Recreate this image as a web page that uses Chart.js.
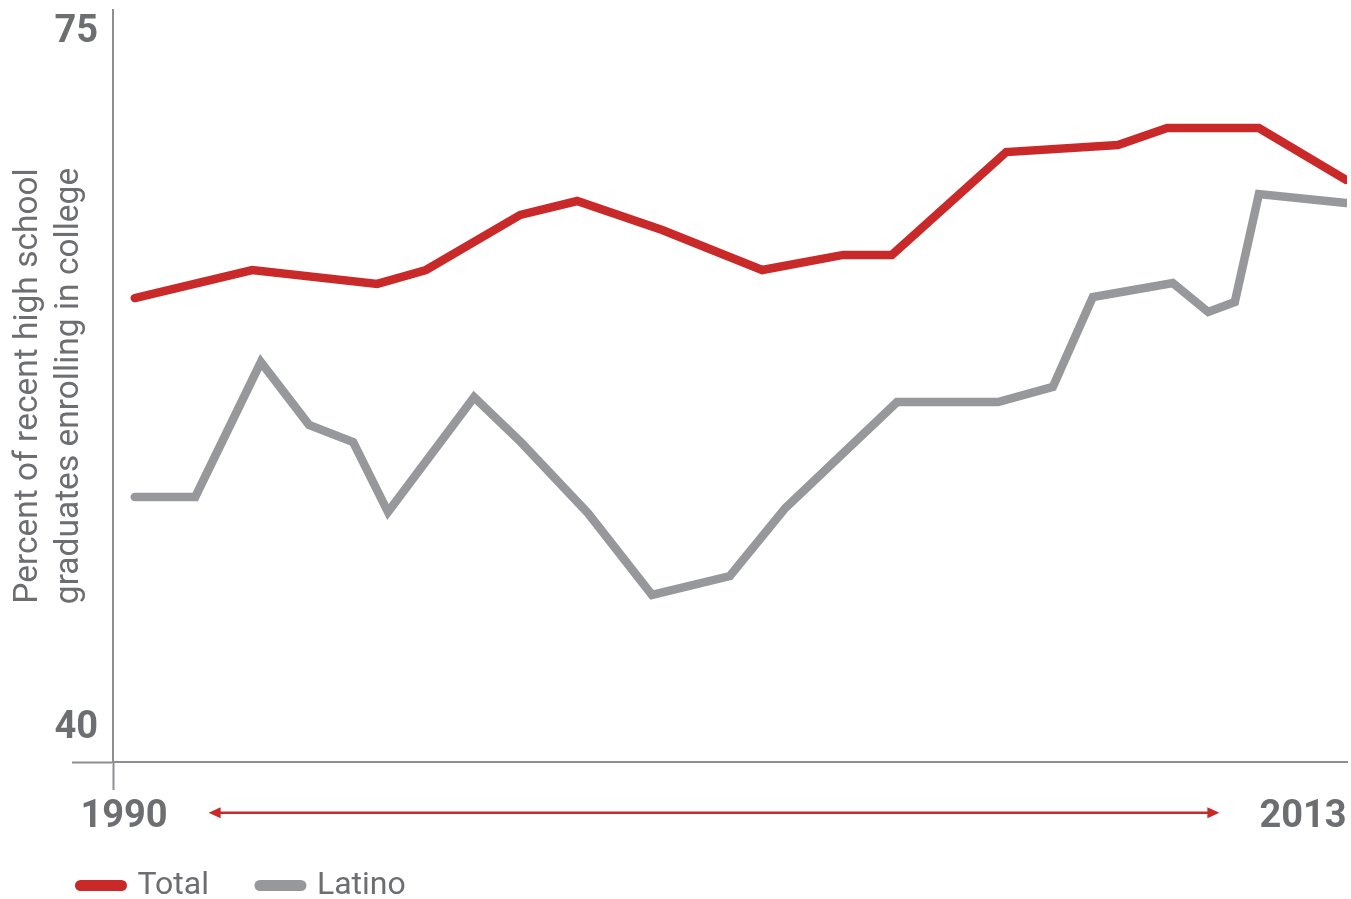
<!DOCTYPE html>
<html>
<head>
<meta charset="utf-8">
<script src="https://cdn.jsdelivr.net/npm/chart.js@4"></script>
<style>
  html, body { margin: 0; padding: 0; background: #ffffff; }
  #wrap { position: relative; width: 1351px; height: 899px; }
</style>
</head>
<body>
<div id="wrap"><canvas id="chart"></canvas></div>
<script>
// ---- data ----
const seriesNames = ['Total', 'Latino'];
const totalYears  = [1990.21, 1992.50, 1994.94, 1995.89, 1997.73, 1998.84, 2000.50, 2002.45, 2004.03, 2004.98, 2007.21, 2009.39, 2010.35, 2012.14, 2013.84];
const totalRates  = [61.47, 62.88, 62.18, 62.88, 65.65, 66.35, 64.89, 62.88, 63.64, 63.64, 68.81, 69.17, 70.02, 70.02, 67.41];
const latinoYears = [1990.21, 1991.39, 1992.67, 1993.61, 1994.47, 1995.15, 1996.83, 1997.74, 1999.05, 2000.30, 2001.82, 2002.90, 2005.08, 2007.05, 2008.12, 2008.90, 2010.46, 2011.15, 2011.67, 2012.14, 2013.84];
const latinoRates = [51.47, 51.47, 58.25, 55.09, 54.23, 50.71, 56.49, 54.23, 50.66, 46.54, 47.49, 50.91, 56.24, 56.24, 57.00, 61.52, 62.23, 60.77, 61.27, 66.70, 66.25];
const xTickLabels = [1990, 2013];
const yTickLabels = [40, 75];
const yTitleLines = ['Percent of recent high school', 'graduates enrolling in college'];

// ---- styling / axis extents ----
const RED = '#c92a29';
const GREY_LINE = '#97989b';
const AXIS = '#8e8f93';
const TEXT = '#6d6e71';
const X_MIN = 1989.7854, X_MAX = 2013.8587;
const Y_MIN = 38.1394, Y_MAX = 75.9555;

const toPoints = (xs, ys) => xs.map((x, i) => ({ x: x, y: ys[i] }));

const rangeArrow = {
  id: 'rangeArrow',
  afterDraw(chart) {
    const xs = chart.scales.x;
    const items = xs.getLabelItems();
    const a = items.find(it => it.label === String(xTickLabels[0]));
    const b = items.find(it => it.label === String(xTickLabels[xTickLabels.length - 1]));
    if (!a || !b) return;
    const ctx = chart.ctx;
    ctx.save();
    ctx.font = a.font.string;
    const wa = ctx.measureText(a.label).width;
    const wb = ctx.measureText(b.label).width;
    const y = a.options.translation[1] + a.textOffset - 5;
    const L = a.options.translation[0] + wa / 2 + 41;
    const R = b.options.translation[0] - wb / 2 - 40;
    ctx.strokeStyle = RED; ctx.fillStyle = RED; ctx.lineWidth = 2.5;
    ctx.beginPath(); ctx.moveTo(L + 8, y); ctx.lineTo(R - 8, y); ctx.stroke();
    ctx.beginPath(); ctx.moveTo(L, y); ctx.lineTo(L + 12, y - 5.5); ctx.lineTo(L + 12, y + 5.5); ctx.closePath(); ctx.fill();
    ctx.beginPath(); ctx.moveTo(R, y); ctx.lineTo(R - 12, y - 5.5); ctx.lineTo(R - 12, y + 5.5); ctx.closePath(); ctx.fill();
    ctx.restore();
  }
};

function draw() {
  new Chart(document.getElementById('chart'), {
    type: 'line',
    data: {
      datasets: [
        { label: seriesNames[0], data: toPoints(totalYears, totalRates), borderColor: RED, backgroundColor: RED,
          borderWidth: 8.5, borderCapStyle: 'round', borderJoinStyle: 'miter', pointRadius: 0, tension: 0, fill: false },
        { label: seriesNames[1], data: toPoints(latinoYears, latinoRates), borderColor: GREY_LINE, backgroundColor: GREY_LINE,
          borderWidth: 8.5, borderCapStyle: 'round', borderJoinStyle: 'miter', pointRadius: 0, tension: 0, fill: false }
      ]
    },
    options: {
      responsive: true,
      maintainAspectRatio: false,
      animation: false,
      events: [],
      layout: { autoPadding: false, padding: { left: 29.5, top: 10, right: 4, bottom: -12.5 } },
      plugins: {
        tooltip: { enabled: false },
        legend: {
          display: true,
          position: 'bottom',
          align: 'start',
          labels: {
            usePointStyle: true,
            pointStyleWidth: 41,
            boxHeight: 32,
            padding: 51,
            color: TEXT,
            font: { family: 'Roboto', size: 32, weight: 'normal' },
            generateLabels(chart) {
              const items = Chart.defaults.plugins.legend.labels.generateLabels(chart);
              return items.map((it, i) => Object.assign(it, {
                pointStyle: 'line', lineWidth: 11, lineCap: 'round',
                strokeStyle: chart.data.datasets[i].borderColor,
                fillStyle: chart.data.datasets[i].borderColor,
                fontColor: TEXT
              }));
            }
          }
        }
      },
      scales: {
        x: {
          type: 'linear',
          min: X_MIN, max: X_MAX,
          afterBuildTicks(s) { s.ticks = [X_MIN, ...xTickLabels].map(v => ({ value: v })); },
          afterFit(s) { s.height = 56.5; s.paddingLeft = 0; s.paddingRight = 0; s.paddingTop = 0; s.paddingBottom = 0; },
          ticks: {
            autoSkip: false, maxRotation: 0, minRotation: 0,
            mirror: true, padding: -78.5,
            color: TEXT, font: { family: 'Roboto', size: 38, weight: 'bold' },
            callback: (v) => xTickLabels.includes(v) ? String(v) : ''
          },
          grid: {
            drawOnChartArea: false, tickLength: 28, tickWidth: 2,
            tickColor: (c) => (c.tick && c.tick.value === X_MIN) ? AXIS : 'rgba(0,0,0,0)'
          },
          border: { display: true, color: AXIS, width: 2 }
        },
        y: {
          type: 'linear',
          min: Y_MIN, max: Y_MAX,
          afterBuildTicks(s) { s.ticks = [Y_MIN, ...yTickLabels].map(v => ({ value: v })); },
          afterFit(s) { s.width = 83.5; s.paddingLeft = 0; s.paddingRight = 0; s.paddingTop = 0; s.paddingBottom = 0; },
          ticks: {
            padding: -26, labelOffset: 3,
            color: TEXT, font: { family: 'Roboto', size: 38, weight: 'bold' },
            callback: (v) => yTickLabels.includes(v) ? String(v) : ''
          },
          grid: {
            drawOnChartArea: false, tickLength: 41, tickWidth: 2,
            tickColor: (c) => (c.tick && c.tick.value === Y_MIN) ? AXIS : 'rgba(0,0,0,0)'
          },
          border: { display: true, color: AXIS, width: 2 },
          title: {
            display: true, text: yTitleLines, color: TEXT,
            font: { family: 'Roboto', size: 33.5, weight: 'normal', lineHeight: 1.22 },
            padding: { top: -21, bottom: 0 }
          }
        }
      }
    },
    plugins: [rangeArrow]
  });
}

if (document.fonts && document.fonts.load) {
  Promise.all([
    document.fonts.load('bold 38px Roboto'),
    document.fonts.load('32px Roboto')
  ]).then(draw, draw);
} else {
  draw();
}
</script>
</body>
</html>
